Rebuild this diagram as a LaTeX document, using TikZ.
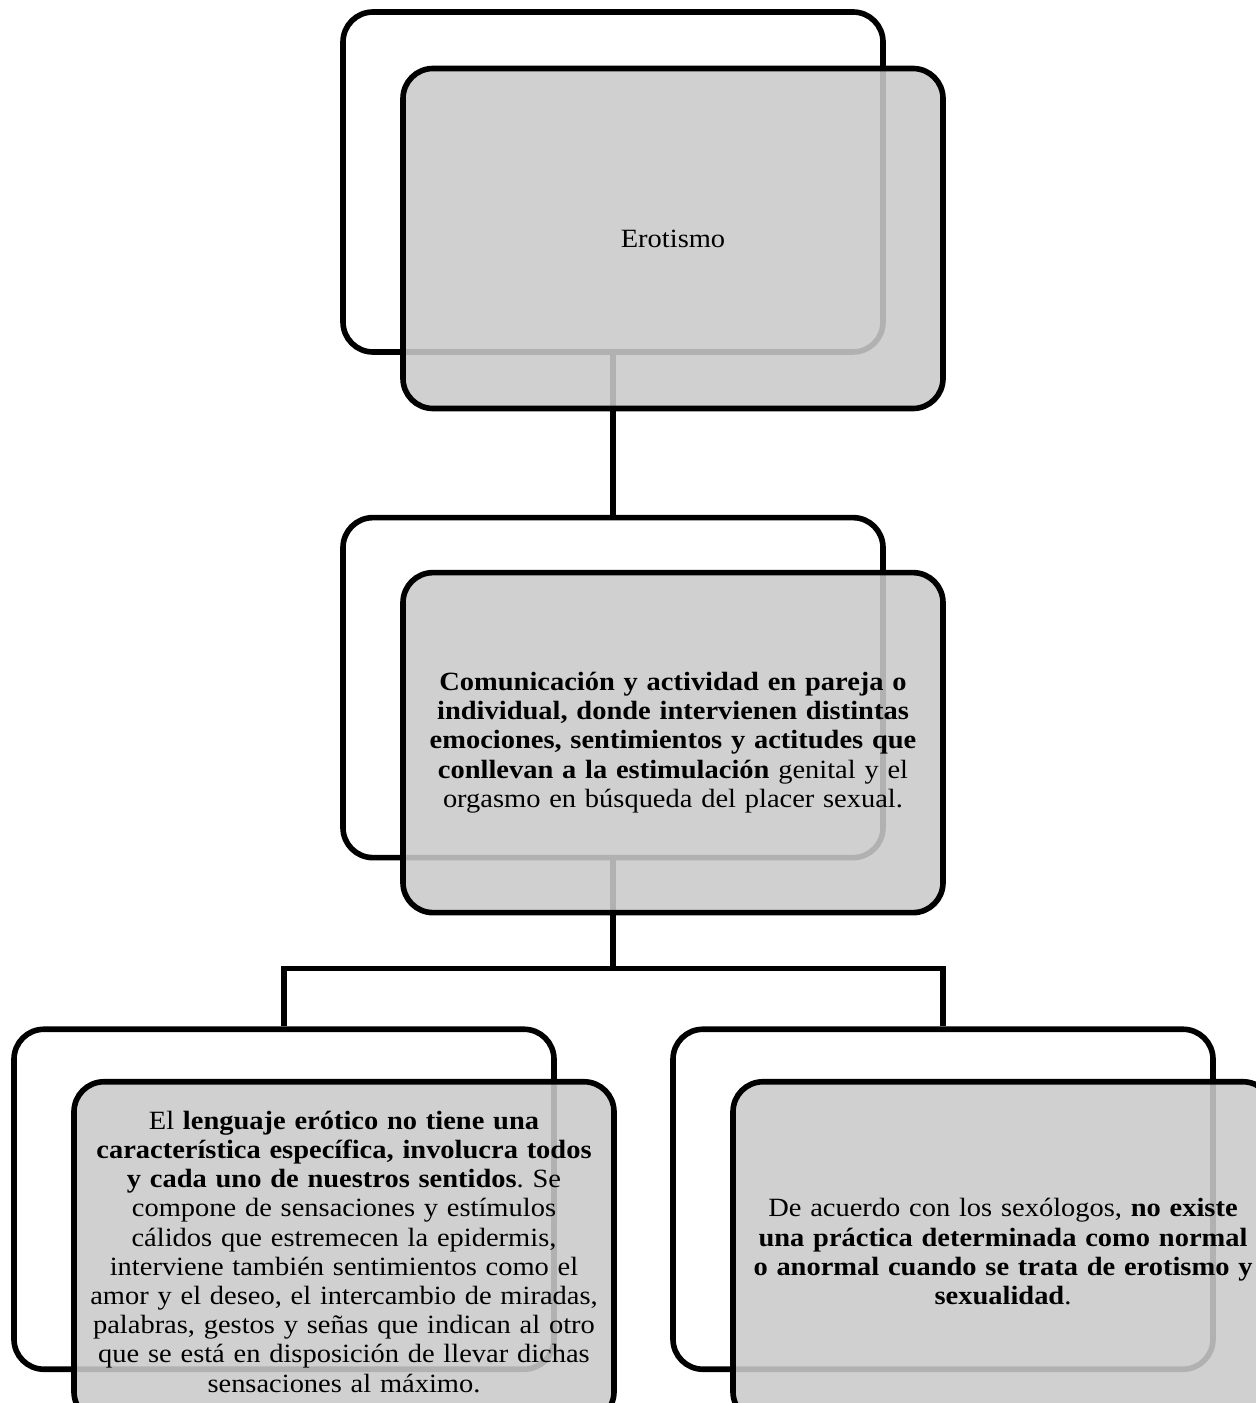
\documentclass[tikz,border=0pt]{standalone}
\usepackage{fontspec}
\setmainfont[FakeStretch=1.08]{Liberation Serif}
\usepackage{tikz}
\usetikzlibrary{positioning}
\usepackage{xcolor}
\definecolor{boxgray}{RGB}{202,202,202}
\frenchspacing

\begin{document}
\begin{tikzpicture}[
    node distance=3.2cm,
    every node/.style={font=\fontsize{15}{16.6}\selectfont},
    back/.style={draw, line width=3.2pt, rounded corners=0.6cm,
        minimum width=10.8cm, minimum height=6.8cm},
    front/.style={draw, line width=3.2pt, rounded corners=0.6cm,
        fill=boxgray, fill opacity=0.88, text opacity=1,
        minimum width=10.8cm, minimum height=6.8cm,
        text width=10.5cm, align=center},
    link/.style={line width=3.2pt}
]
    \useasboundingbox (0,0) rectangle (25.12,-28.06);

    % back boxes
    \node[back] (top) at (12.26,-3.64) {};
    \node[back, below=of top] (mid) {};
    \node[back, below=3.32cm of mid, xshift=-6.58cm] (left) {};
    \node[back, below=3.32cm of mid, xshift=6.6cm] (right) {};

    % connectors
    \coordinate[below=2.16cm of mid.south] (fork);
    \draw[link] (top.south) -- (mid.north);
    \draw[link] (mid.south) -- (fork);
    \draw[link] (fork) -| (left.north);
    \draw[link] (fork) -| (right.north);

    % front boxes
    \node[front] (ero) at ([shift={(1.2,-1.13)}]top.center) {Erotismo};
    \node[front] (com) at ([shift={(1.2,-1.1)}]mid.center)
        {\textbf{Comunicación y actividad en pareja o}\\
         \textbf{individual, donde intervienen distintas}\\
         \textbf{emociones, sentimientos y actitudes que}\\
         \textbf{conllevan a la estimulación} genital y el\\
         orgasmo en búsqueda del placer sexual.};
    \node[front] (len) at ([shift={(1.2,-1.05)}]left.center)
        {El \textbf{lenguaje erótico no tiene una}\\
         \textbf{característica específica, involucra todos}\\
         \textbf{y cada uno de nuestros sentidos}. Se\\
         compone de sensaciones y estímulos\\
         cálidos que estremecen la epidermis,\\
         interviene también sentimientos como el\\
         amor y el deseo, el intercambio de miradas,\\
         palabras, gestos y señas que indican al otro\\
         que se está en disposición de llevar dichas\\
         sensaciones al máximo.};
    \node[front] (sex) at ([shift={(1.2,-1.05)}]right.center)
        {De acuerdo con los sexólogos, \textbf{no existe}\\
         \textbf{una práctica determinada como normal}\\
         \textbf{o anormal cuando se trata de erotismo y}\\
         \textbf{sexualidad}.};
\end{tikzpicture}
\end{document}
